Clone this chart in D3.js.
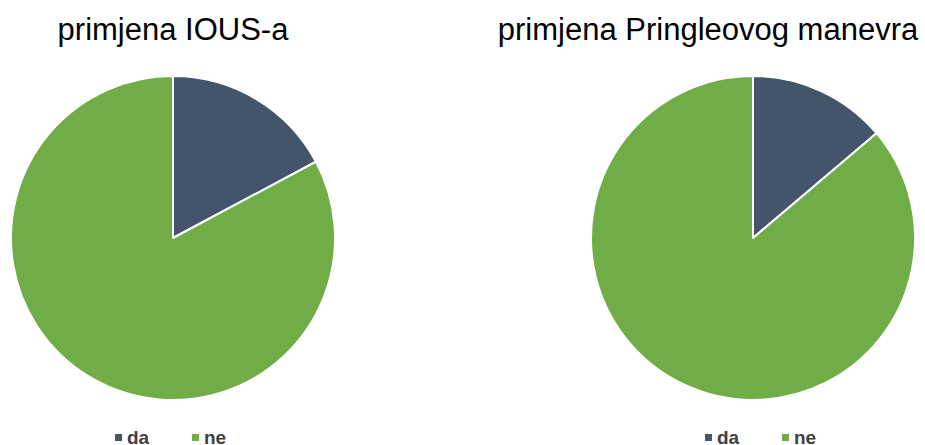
<!DOCTYPE html>
<html>
<head>
<meta charset="utf-8">
<script src="https://cdn.jsdelivr.net/npm/d3@7"></script>
<style>
  body { margin: 0; background: #fff; }
  svg { display: block; }
</style>
</head>
<body>
<div id="chart"></div>
<script>
// chart data
var categories = ["da", "ne"];
var colors = ["#44546A", "#70AD47"];
var titles = ["primjena IOUS-a", "primjena Pringleovog manevra"];
var iousValues = [17.2, 82.8];
var pringleValues = [13.8, 86.2];

var svgWidth = 925;
var svgHeight = 445;

var svg = d3.select("#chart")
  .append("svg")
  .attr("width", svgWidth)
  .attr("height", svgHeight);

var charts = [
  { title: titles[0], values: iousValues, cx: 173, cy: 238, titleX: 173, legendX: 115 },
  { title: titles[1], values: pringleValues, cx: 753, cy: 238, titleX: 708, legendX: 705 }
];

var radius = 162;

var pie = d3.pie().sort(null).value(d => d);
var arc = d3.arc().innerRadius(0).outerRadius(radius);

var color = d3.scaleOrdinal().domain(categories).range(colors);

charts.forEach(function(c) {
  var g = svg.append("g")
    .attr("transform", `translate(${c.cx}, ${c.cy})`);

  g.selectAll("path")
    .data(pie(c.values))
    .enter()
    .append("path")
    .attr("d", arc)
    .attr("fill", (d, i) => color(categories[i]))
    .attr("stroke", "#fff")
    .attr("stroke-width", 2)
    .attr("stroke-linejoin", "round");

  // title
  svg.append("text")
    .attr("x", c.titleX)
    .attr("y", 40)
    .attr("text-anchor", "middle")
    .attr("font-family", "Liberation Sans, Arial, sans-serif")
    .attr("font-size", "31px")
    .attr("fill", "#000")
    .text(c.title);

  // legend
  var legend = svg.append("g")
    .attr("transform", `translate(${c.legendX}, 437)`);

  var item = legend.selectAll("g")
    .data(categories)
    .enter()
    .append("g")
    .attr("transform", (d, i) => `translate(${i * 77}, 0)`);

  item.append("rect")
    .attr("x", 0)
    .attr("y", -3)
    .attr("width", 7)
    .attr("height", 7)
    .attr("fill", d => color(d));

  item.append("text")
    .attr("x", 12)
    .attr("y", 7)
    .attr("font-family", "Liberation Sans, Arial, sans-serif")
    .attr("font-size", "19px")
    .attr("font-weight", "bold")
    .attr("fill", "#404040")
    .text(d => d);
});
</script>
</body>
</html>
